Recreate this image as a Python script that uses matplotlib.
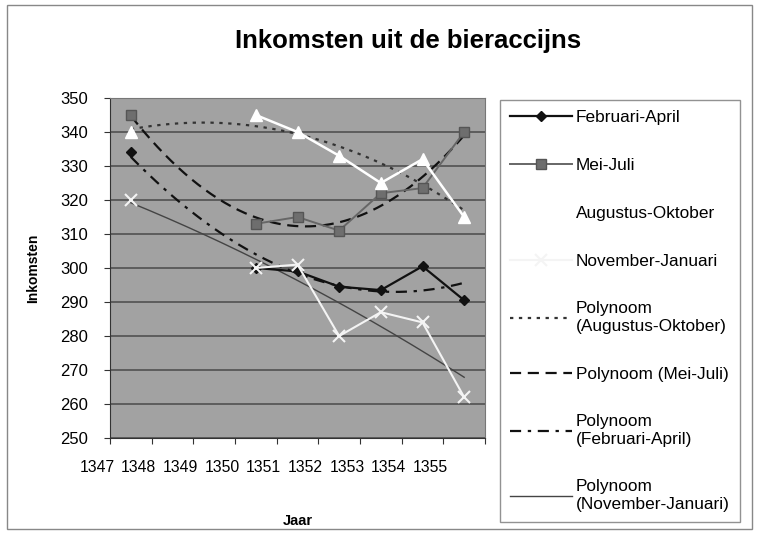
import matplotlib.pyplot as plt
import matplotlib.transforms as mtransforms
import numpy as np

plt.rcParams['font.family'] = ['Liberation Sans', 'DejaVu Sans']

# Jaren (categorieen) en inkomsten per periode; lege cellen = nan
jaren = ['1347', '1348', '1349', '1350', '1351', '1352', '1353', '1354', '1355']
feb_apr = [334, np.nan, np.nan, 300, 299, 294.5, 293.5, 300.5, 290.5]
mei_juli = [345, np.nan, np.nan, 313, 315, 311, 322, 323.5, 340]
aug_okt = [340, np.nan, np.nan, 345, 340, 333, 325, 332, 315]
nov_jan = [320, np.nan, np.nan, 300, 301, 280, 287, 284, 262]

x = np.arange(len(jaren)) + 0.5


def polynoom(vals, graad=2):
    vals = np.array(vals, dtype=float)
    ok = ~np.isnan(vals)
    coef = np.polyfit(x[ok], vals[ok], graad)
    xs = np.linspace(x[0], x[-1], 200)
    return xs, np.polyval(coef, xs)


fig = plt.figure(figsize=(7.59, 5.33), dpi=100)
ax = fig.add_axes([110 / 759, 1 - 438 / 533, 375 / 759, 340 / 533])
ax.set_facecolor('#a2a2a2')

# reeksen
ax.plot(x, feb_apr, '-', color='#111111', lw=1.6, marker='D', ms=5.5,
        label='Februari-April', zorder=5)
ax.plot(x, mei_juli, '-', color='#666666', lw=1.4, marker='s', ms=7,
        mfc='#6e6e6e', mec='#555555', label='Mei-Juli', zorder=5)
ax.plot(x, aug_okt, '-', color='white', lw=1.8, marker='^', ms=8,
        mfc='white', mec='white', label='Augustus-Oktober', zorder=5)
ax.plot(x, nov_jan, '-', color='#f4f4f4', lw=1.5, marker='x', ms=8,
        mew=1.5, label='November-Januari', zorder=5)

# trendlijnen
xs, ys = polynoom(aug_okt)
ax.plot(xs, ys, color='#333333', lw=1.6, ls=(0, (1.5, 2.5)),
        label='Polynoom\n(Augustus-Oktober)', zorder=4)
xs, ys = polynoom(mei_juli)
ax.plot(xs, ys, color='#111111', lw=1.6, ls=(0, (5, 3)),
        label='Polynoom (Mei-Juli)', zorder=4)
xs, ys = polynoom(feb_apr)
ax.plot(xs, ys, color='#111111', lw=1.6, ls=(0, (5, 3, 1.5, 3)),
        label='Polynoom\n(Februari-April)', zorder=4)
xs, ys = polynoom(nov_jan)
ax.plot(xs, ys, color='#444444', lw=1.0, ls='-',
        label='Polynoom\n(November-Januari)', zorder=4)

ax.set_xlim(0, len(jaren))
ax.set_ylim(250, 350)
ax.set_yticks(np.arange(250, 351, 10))
ax.set_xticks(np.arange(0, len(jaren) + 1))
ax.set_xticklabels(jaren + [''])
ax.yaxis.grid(True, color='#4a4a4a', lw=1.1)
ax.set_axisbelow(True)
ax.tick_params(axis='y', labelsize=12, length=4, color='#333333', pad=12)
ax.tick_params(axis='x', labelsize=11.3, length=4, color='#333333', pad=12)
shift = mtransforms.ScaledTranslation(-13 / 100, 0, fig.dpi_scale_trans)
for lbl in ax.get_xticklabels():
    lbl.set_transform(lbl.get_transform() + shift)
for side in ['top', 'right']:
    ax.spines[side].set_color('#777777')
for side in ['left', 'bottom']:
    ax.spines[side].set_color('#333333')

ax.set_ylabel('Inkomsten', fontsize=10, fontweight='bold', labelpad=14)
ax.set_xlabel('Jaar', fontsize=10.5, fontweight='bold', labelpad=28)
fig.suptitle('Inkomsten uit de bieraccijns', fontsize=18.5, fontweight='bold',
             x=408 / 759, y=1 - 41 / 533, va='center')

leg = ax.legend(loc='upper left', bbox_to_anchor=(500 / 759, 1 - 100 / 533),
                bbox_transform=fig.transFigure, fontsize=12.4, frameon=True,
                fancybox=False, edgecolor='#777777', handlelength=3.6,
                handletextpad=0.2, labelspacing=1.9, borderpad=0.6,
                borderaxespad=0)
leg.get_frame().set_linewidth(1.0)

# rand van het grafiekgebied
fig.patches.append(plt.Rectangle((7 / 759, 4 / 533), 745 / 759, 524 / 533,
                                 transform=fig.transFigure, fill=False,
                                 edgecolor='#888888', lw=1.0))

fig.savefig('out.png', dpi=100)
